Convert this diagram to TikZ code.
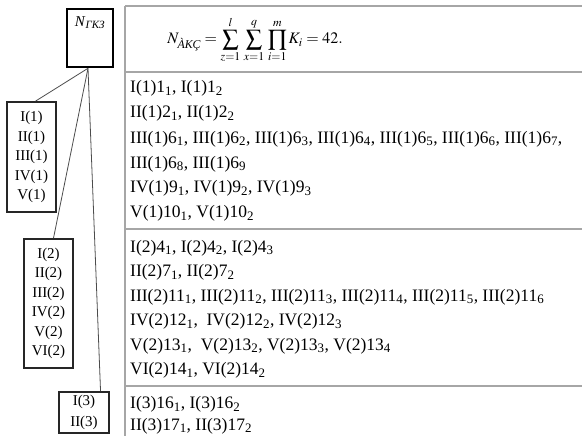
\documentclass[tikz,border=0pt]{standalone}
\usepackage{amsmath}
\usepackage{mathptmx}
\usepackage{fontspec}
\setmainfont{Liberation Serif}
\usetikzlibrary{calc}
\newcommand\lo[1]{\textsubscript{#1}}
\begin{document}
\begin{tikzpicture}[x=1pt,y=-1pt,
  tblline/.style={draw=gray!70, line width=1.3pt},
  topbox/.style={draw=black, line width=2.6pt, minimum width=46pt, minimum height=58pt, inner sep=0pt},
  lvlbox/.style={draw=black!85, line width=1.7pt, inner sep=0pt, align=center,
    font=\fontsize{15}{19.5}\selectfont},
  link/.style={draw=black!70, line width=0.8pt},
  row/.style={anchor=base west, inner sep=0pt, font=\fontsize{17.5}{20}\selectfont}]
\useasboundingbox (0,0) rectangle (582,436);

% table frame
\coordinate (tl) at (125,6);
\coordinate (tr) at (582,6);
\coordinate (fl) at (125,72);
\coordinate (fr) at (582,72);
\coordinate (g1l) at (125,229);
\coordinate (g1r) at (582,229);
\coordinate (g2l) at (125,386);
\coordinate (g2r) at (582,386);
\coordinate (bl) at (125,436);
\draw[tblline] (tl) -- (tr);
\draw[tblline] (fl) -- (fr);
\draw[tblline] (g1l) -- (g1r);
\draw[tblline] (g2l) -- (g2r);
\draw[tblline] (tl) -- (bl);

% formula row
\node[inner sep=0pt, font=\fontsize{16}{18}\selectfont] (formula) at (255,40)
  {$\displaystyle N_{\text{\itshape ÀKÇ}} = \sum_{z=1}^{l}\,\sum_{x=1}^{q}\,\prod_{i=1}^{m} K_{i} = 42.$};

% rows of the table
\node[row] (r1)  at (130,93)  {I(1)1\lo1, I(1)1\lo2};
\node[row] (r2)  at (130,118) {II(1)2\lo1, II(1)2\lo2};
\node[row] (r3)  at (130,143) {III(1)6\lo1, III(1)6\lo2, III(1)6\lo3, III(1)6\lo4, III(1)6\lo5, III(1)6\lo6, III(1)6\lo7,};
\node[row] (r4)  at (130,168) {III(1)6\lo8, III(1)6\lo9};
\node[row] (r5)  at (130,193) {IV(1)9\lo1, IV(1)9\lo2, IV(1)9\lo3};
\node[row] (r6)  at (130,218) {V(1)10\lo1, V(1)10\lo2};
\node[row] (r7)  at (130,252)   {I(2)4\lo1, I(2)4\lo2, I(2)4\lo3};
\node[row] (r8)  at (130,276.5) {II(2)7\lo1, II(2)7\lo2};
\node[row] (r9)  at (130,301)   {III(2)11\lo1, III(2)11\lo2, III(2)11\lo3, III(2)11\lo4, III(2)11\lo5, III(2)11\lo6};
\node[row] (r10) at (130,325.5) {IV(2)12\lo1, \ IV(2)12\lo2, IV(2)12\lo3};
\node[row] (r11) at (130,350)   {V(2)13\lo1, \ V(2)13\lo2, V(2)13\lo3, V(2)13\lo4};
\node[row] (r12) at (130,374.5) {VI(2)14\lo1, VI(2)14\lo2};
\node[row] (r13) at (130,408.5) {I(3)16\lo1, I(3)16\lo2};
\node[row] (r14) at (130,430)   {II(3)17\lo1, II(3)17\lo2};

% hierarchy boxes
\node[topbox] (n0) at (90,38) {};
\node[inner sep=0pt, font=\fontsize{15}{17}\selectfont, anchor=north] (n0lab) at ($(n0.north)+(0,9)$)
  {\textit{N}\textsubscript{\textit{ГКЗ}}};
\node[lvlbox, minimum width=49pt, minimum height=110pt] (b1) at (31.5,157)
  {I(1)\\II(1)\\III(1)\\IV(1)\\V(1)};
\node[lvlbox, minimum width=49pt, minimum height=129pt] (b2) at (48.5,303.5)
  {I(2)\\II(2)\\III(2)\\IV(2)\\V(2)\\VI(2)};
\node[lvlbox, minimum width=50pt, minimum height=41pt, font=\fontsize{15}{20.5}\selectfont] (b3) at (84,412.5)
  {I(3)\\II(3)};

% connectors
\coordinate (hub) at ($(n0.south)+(-2,0)$);
\draw[link] (hub) -- ($(b1.north)+(4,0)$);
\draw[link] (hub) -- ($(b2.north)+(5,0)$);
\draw[link] (hub) -- ($(b3.north)!0.64!(b3.north east)$);
\end{tikzpicture}
\end{document}
